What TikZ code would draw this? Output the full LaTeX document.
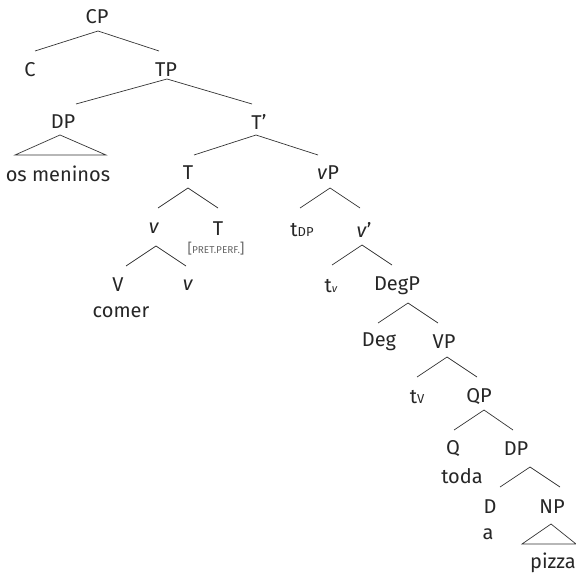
\documentclass[tikz,border=0pt]{standalone}
\usepackage{fontspec}
\setmainfont{Fira Sans}
\begin{document}
\begin{tikzpicture}[x=1pt,y=-1pt,
  lbl/.style={inner sep=0pt, text=black!85, font=\fontsize{20}{22}\selectfont},
  br/.style={draw=black!80, line width=0.7pt}]
\useasboundingbox (0,0) rectangle (575,577);
% labels
\node[lbl] (cp) at (97,17) {CP};
\node[lbl] (c) at (30,70) {C};
\node[lbl] (tp) at (166,70) {TP};
\node[lbl] (dp1) at (63,122) {DP};
\node[lbl] (tbar) at (259,122) {T’};
\node[lbl] (osm) at (58,174) {os meninos};
\node[lbl] (t1) at (188,173) {T};
\node[lbl] (vp1) at (328,173) {\textit{v}P};
\node[lbl] (v1) at (154,228) {\textit{v}};
\node[lbl] (t2) at (218,229) {T};
\node[inner sep=0pt, text=black!60] (feat) at (216,249) {\fontsize{14}{14}\selectfont[\fontsize{10}{10}\selectfont PRET.PERF.\fontsize{14}{14}\selectfont]};
\node[lbl] (bigv) at (118,285) {V};
\node[lbl] (v2) at (188,285) {\textit{v}};
\node[lbl] (comer) at (121,312) {comer};
\node[lbl] (tdp) at (302,230) {t\fontsize{13}{13}\selectfont DP};
\node[lbl] (vbar) at (364,230) {\textit{v}’};
\node[lbl] (tv1) at (331,286) {t\fontsize{11}{11}\selectfont\textit{v}};
\node[lbl] (degp) at (397,286) {DegP};
\node[lbl] (deg) at (379,342) {Deg};
\node[lbl] (vp2) at (444,342) {VP};
\node[lbl] (tv2) at (417,397) {t\fontsize{13}{13}\selectfont V};
\node[lbl] (qp) at (479,397) {QP};
\node[lbl] (q) at (453,449) {Q};
\node[lbl] (dp2) at (516,449) {DP};
\node[lbl] (toda) at (462,476) {toda};
\node[lbl] (d) at (490,507) {D};
\node[lbl] (np) at (552,507) {NP};
\node[lbl] (a) at (488,534) {a};
\node[lbl] (pizza) at (553,563) {pizza};
% branch points
\coordinate (cpA) at (98,31);  \coordinate (cpL) at (35,51);  \coordinate (cpR) at (159,51);
\coordinate (tpA) at (167,79); \coordinate (tpL) at (76,104); \coordinate (tpR) at (252,104);
\coordinate (dpA) at (60,135); \coordinate (dpL) at (15,155); \coordinate (dpR) at (106,155);
\coordinate (tbA) at (256,135); \coordinate (tbL) at (194,155); \coordinate (tbR) at (318,155);
\coordinate (tA) at (188,188); \coordinate (tL) at (158,208); \coordinate (tR) at (218,208);
\coordinate (vA) at (156,246); \coordinate (vL) at (126,266); \coordinate (vR) at (186,266);
\coordinate (vpA) at (330,188); \coordinate (vpL) at (300,208); \coordinate (vpR) at (360,208);
\coordinate (vbA) at (362,245); \coordinate (vbL) at (332,265); \coordinate (vbR) at (392,265);
\coordinate (dgA) at (408,303); \coordinate (dgL) at (378,323); \coordinate (dgR) at (438,323);
\coordinate (VPA) at (447,357); \coordinate (VPL) at (417,377); \coordinate (VPR) at (477,377);
\coordinate (qpA) at (484,410); \coordinate (qpL) at (454,430); \coordinate (qpR) at (513,430);
\coordinate (d2A) at (530,467); \coordinate (d2L) at (500,487); \coordinate (d2R) at (560,487);
\coordinate (npA) at (551,524); \coordinate (npL) at (522,544); \coordinate (npR) at (576,544);
% branches
\draw[br] (cpL) -- (cpA) -- (cpR);
\draw[br] (tpL) -- (tpA) -- (tpR);
\draw[br] (dpL) -- (dpA) -- (dpR) -- cycle;
\draw[br] (tbL) -- (tbA) -- (tbR);
\draw[br] (tL) -- (tA) -- (tR);
\draw[br] (vL) -- (vA) -- (vR);
\draw[br] (vpL) -- (vpA) -- (vpR);
\draw[br] (vbL) -- (vbA) -- (vbR);
\draw[br] (dgL) -- (dgA) -- (dgR);
\draw[br] (VPL) -- (VPA) -- (VPR);
\draw[br] (qpL) -- (qpA) -- (qpR);
\draw[br] (d2L) -- (d2A) -- (d2R);
\draw[br] (npL) -- (npA) -- (npR) -- cycle;
\end{tikzpicture}
\end{document}
